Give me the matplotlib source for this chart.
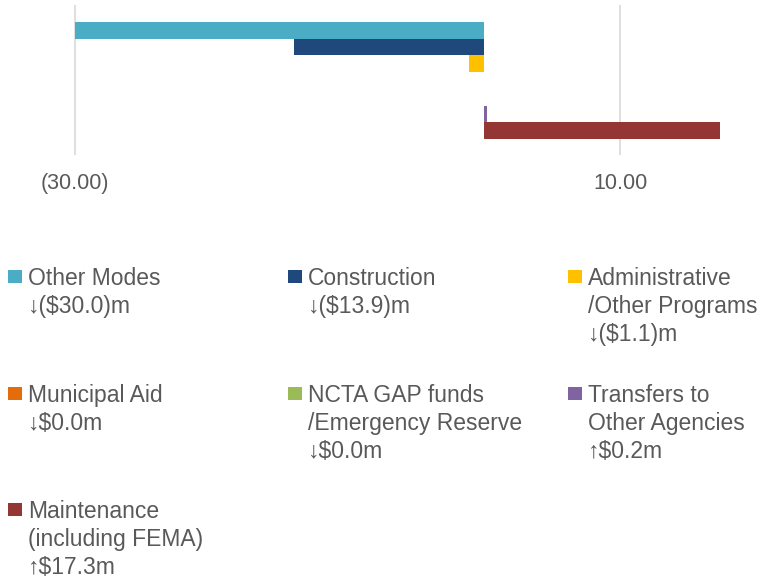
import matplotlib

matplotlib.use("Agg")
import matplotlib.pyplot as plt
from matplotlib.patches import Rectangle

# series, top to bottom
names = [
    "Other Modes",
    "Construction",
    "Administrative\n/Other Programs",
    "Municipal Aid",
    "NCTA GAP funds\n/Emergency Reserve",
    "Transfers to\nOther Agencies",
    "Maintenance\n(including FEMA)",
]
values = [-30.0, -13.9, -1.1, 0.0, 0.0, 0.2, 17.3]
colors = ["#4BACC6", "#1F497D", "#FFC000", "#E46C0A", "#9BBB59", "#8064A2", "#943634"]
xticks = [-30, 10]
xtick_labels = ["(30.00)", "10.00"]

TEXT = "#595959"
FONT = ["Liberation Sans", "DejaVu Sans"]
plt.rcParams["font.family"] = FONT

W, H = 776, 580
fig = plt.figure(figsize=(W / 100, H / 100), dpi=100)


def fx(px):
    return px / W


def fy(py):
    return 1 - py / H


ax = fig.add_axes([fx(40), fy(155), fx(760) - fx(40), fy(5) - fy(155)])
pos = list(range(len(values)))
ax.barh(pos, values, height=1.0, color=colors, zorder=3)
ax.set_ylim(7.45, -1.51)
ax.set_xlim(-32.57, 20.27)
ax.set_xticks(xticks)
ax.set_xticklabels(xtick_labels)
ax.set_yticks([])
ax.tick_params(axis="x", length=0, pad=13, labelsize=15.5, labelcolor=TEXT)
ax.grid(axis="x", color="#D9D9D9", linewidth=1.2, zorder=0)
for s in ax.spines.values():
    s.set_visible(False)


def fmt(v):
    arrow = "\u2191" if v > 0 else "\u2193"
    if v < 0:
        return f"{arrow}(${abs(v):.1f})m"
    return f"{arrow}${v:.1f}m"


# legend, drawn by hand in 3 columns
col_x = [8, 288, 568]
row_base = [285, 402, 518]
line_step = 28
for i, (name, v, c) in enumerate(zip(names, values, colors)):
    r, k = divmod(i, 3)
    x0, yb = col_x[k], row_base[r]
    fig.patches.append(
        Rectangle((fx(x0), fy(yb - 2)), fx(14), 13 / H, transform=fig.transFigure,
                  facecolor=c, edgecolor="none")
    )
    lines = name.split("\n") + [fmt(v)]
    for j, line in enumerate(lines):
        fig.text(fx(x0 + 20), fy(yb + j * line_step), line, ha="left", va="baseline",
                 fontsize=16.5, color=TEXT)

fig.savefig("out.png", dpi=100)
